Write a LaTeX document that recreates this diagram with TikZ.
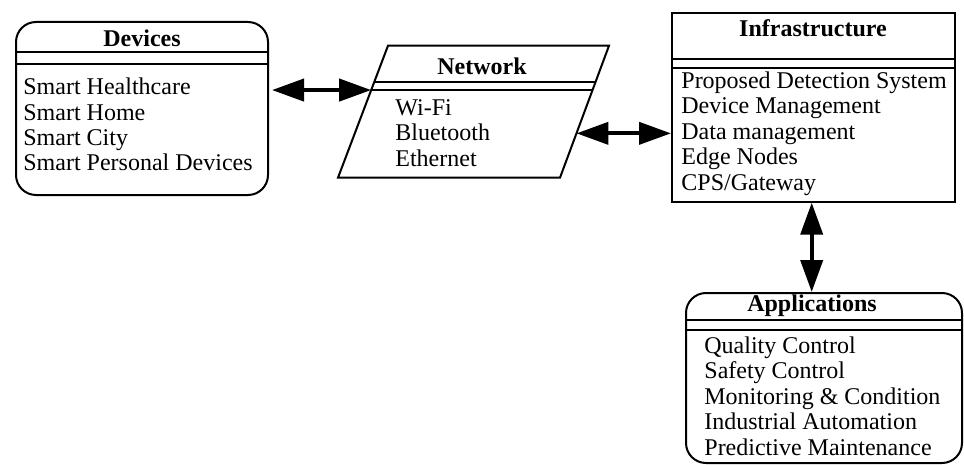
\documentclass[tikz,border=0pt]{standalone}
\usepackage{fontspec}
\setmainfont{Liberation Serif}
\usetikzlibrary{shapes.geometric, positioning, arrows.meta, calc}

\begin{document}
\begin{tikzpicture}[x=0.5pt, y=-0.5pt,
    roundbox/.style={rectangle, rounded corners=10pt, draw=black, line width=1pt, inner sep=0pt},
    squarebox/.style={rectangle, draw=black, line width=1pt, inner sep=0pt},
    netbox/.style={draw=black, line width=1pt, line join=miter},
    title/.style={font=\fontsize{12}{12.7}\selectfont\bfseries, inner sep=0pt},
    items/.style={font=\fontsize{12}{12.7}\selectfont, align=left, inner sep=0pt, anchor=west},
    sep/.style={line width=1pt},
    link/.style={draw, {Triangle[length=16pt,width=11pt]}-{Triangle[length=16pt,width=11pt]}, line width=2pt}
]
\useasboundingbox (0,0) rectangle (964,465);

% --- Devices ---
\node[roundbox, minimum width=126pt, minimum height=86.5pt] (devices) at (142,108.5) {};
\node[title] (devtitle) at (142,38) {Devices};
\draw[sep] (devices.west |- 0,52) -- (devices.east |- 0,52);
\draw[sep] (devices.west |- 0,64) -- (devices.east |- 0,64);
\node[items] (devlist) at (23,124.5) {Smart Healthcare\\Smart Home\\Smart City\\Smart Personal Devices};

% --- Network (parallelogram) ---
\coordinate (ntl) at (388,45.7);
\coordinate (ntr) at (609,45.7);
\coordinate (nbr) at (560,177.7);
\coordinate (nbl) at (338,177.7);
\draw[netbox] (ntl) -- (ntr) -- (nbr) -- (nbl) -- cycle;
\node[title] (nettitle) at (482,66) {Network};
\draw[sep] ($(ntl)!0.273!(nbl)$) -- ($(ntr)!0.273!(nbr)$);
\draw[sep] ($(ntl)!0.336!(nbl)$) -- ($(ntr)!0.336!(nbr)$);
\coordinate (netin) at ($(ntl)!0.336!(nbl)$);
\coordinate (netout) at ($(ntr)!0.664!(nbr)$);
\node[items] (netlist) at (395,133) {Wi-Fi\\Bluetooth\\Ethernet};

% --- Infrastructure ---
\node[squarebox, minimum width=141.5pt, minimum height=94.5pt] (infra) at (813.5,107.2) {};
\node[title] (inftitle) at (813,28) {Infrastructure};
\draw[sep] (infra.west |- 0,59) -- (infra.east |- 0,59);
\draw[sep] (infra.west |- 0,68) -- (infra.east |- 0,68);
\node[items] (inflist) at (681,133.5) {Proposed Detection System\\Device Management\\Data management\\Edge Nodes\\CPS/Gateway};

% --- Applications ---
\node[roundbox, minimum width=138pt, minimum height=85pt] (apps) at (824,378) {};
\node[title] (apptitle) at (812,306) {Applications};
\draw[sep] (apps.west |- 0,320) -- (apps.east |- 0,320);
\draw[sep] (apps.west |- 0,330) -- (apps.east |- 0,330);
\node[items] (applist) at (704,396) {Quality Control\\Safety Control\\Monitoring \& Condition\\Industrial Automation\\Predictive Maintenance};

% --- Connections ---
\draw[link, shorten <=1.5pt] (devices.east |- netin) -- (netin);
\draw[link] (netout) -- (infra.west |- netout);
\draw[link] (811.7,0 |- infra.south) -- (811.7,0 |- apps.north);

\end{tikzpicture}
\end{document}
